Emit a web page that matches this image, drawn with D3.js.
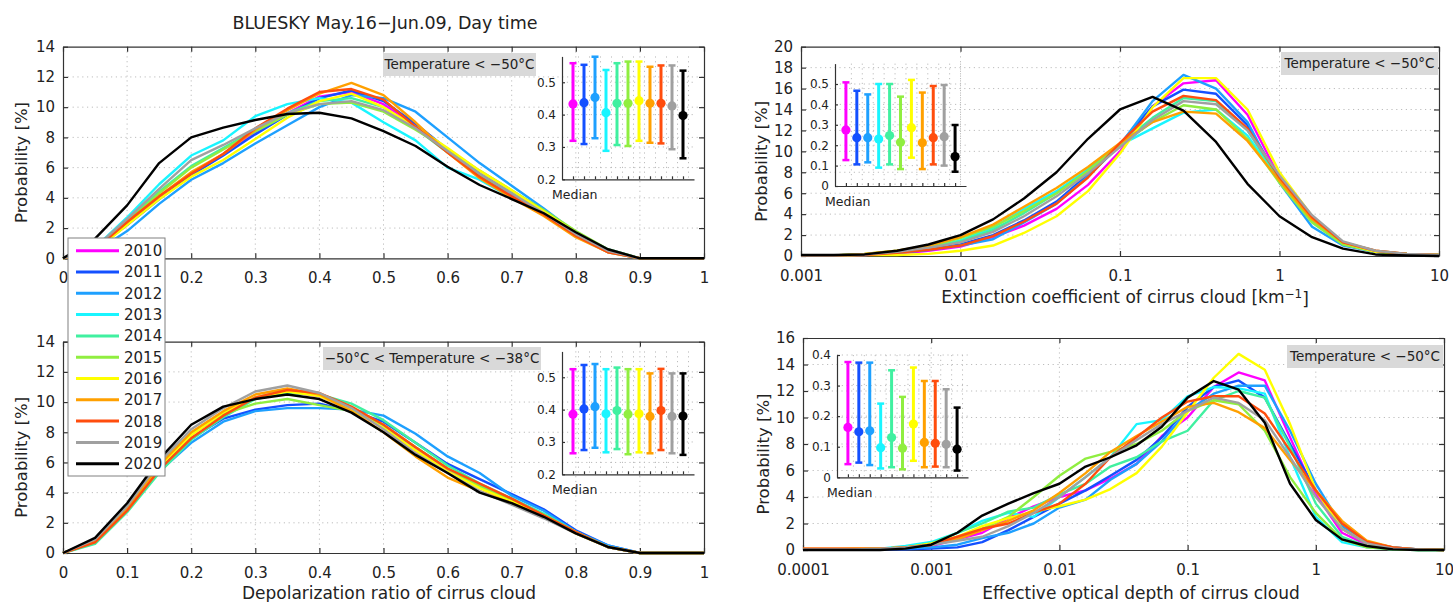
<!DOCTYPE html>
<html>
<head>
<meta charset="utf-8">
<script src="https://cdn.jsdelivr.net/npm/d3@7"></script>
<style>
  body { margin: 0; background: #fff; }
  svg { display: block; font-family: 'DejaVu Sans', 'Liberation Sans', sans-serif; fill: #222; }
  .axis path, .axis line { stroke: #333; stroke-width: 1.2; }
  .axis text { font-size: 15px; fill: #222; font-family: 'DejaVu Sans', sans-serif; }
  .inset .axis text { font-size: 12px; }
  .grid line { stroke: #bdbdbd; stroke-width: 1; stroke-dasharray: 1.2,3.6; }
</style>
</head>
<body>
<svg id="chart" width="1453" height="602"></svg>
<script>
'use strict';

var years = ['2010', '2011', '2012', '2013', '2014', '2015', '2016', '2017', '2018', '2019', '2020'];
var colors = ['#ff00ff', '#1450ff', '#1ea0ff', '#19f5ff', '#40f0a0', '#90ee40', '#ffff00', '#ffa000', '#ff4d0d', '#a0a0a0', '#000000'];

// bins (x of every point)
var depolBins = [0, 0.05, 0.1, 0.15, 0.2, 0.25, 0.3, 0.35, 0.4, 0.45, 0.5, 0.55, 0.6, 0.65, 0.7, 0.75, 0.8, 0.85, 0.9, 0.95, 1];
var extBins = [0.001, 0.0016, 0.0025, 0.004, 0.0063, 0.01, 0.016, 0.025, 0.04, 0.063, 0.1, 0.16, 0.25, 0.4, 0.63, 1, 1.6, 2.5, 4, 6.3, 10];
var odBins = [0.0001, 0.00016, 0.00025, 0.0004, 0.00063, 0.001, 0.0016, 0.0025, 0.004, 0.0063, 0.01, 0.016, 0.025, 0.04, 0.063, 0.1, 0.16, 0.25, 0.4, 0.63, 1, 1.6, 2.5, 4, 6.3, 10];

// tick labels
var depolTicks = [0, 0.1, 0.2, 0.3, 0.4, 0.5, 0.6, 0.7, 0.8, 0.9, 1];
var extTicks = [0.001, 0.01, 0.1, 1, 10];
var odTicks = [0.0001, 0.001, 0.01, 0.1, 1, 10];
var prob14Ticks = [0, 2, 4, 6, 8, 10, 12, 14];
var prob20Ticks = [0, 2, 4, 6, 8, 10, 12, 14, 16, 18, 20];
var prob16Ticks = [0, 2, 4, 6, 8, 10, 12, 14, 16];

// probability [%], one row per year, T < -50C
var depolCold = [
  [0, 0.6, 2.3, 4.0, 5.6, 6.9, 8.3, 9.6, 10.7, 11.0, 10.2, 8.8, 7.1, 5.5, 4.2, 2.9, 1.6, 0.5, 0, 0, 0],
  [0, 0.6, 2.2, 3.9, 5.5, 6.8, 8.2, 9.5, 10.6, 11.1, 10.4, 8.9, 7.2, 5.6, 4.3, 3.0, 1.6, 0.5, 0, 0, 0],
  [0, 0.4, 1.8, 3.6, 5.2, 6.3, 7.6, 8.8, 10.0, 10.8, 10.6, 9.7, 8.0, 6.3, 4.8, 3.3, 1.7, 0.6, 0, 0, 0],
  [0, 0.7, 2.7, 4.9, 6.8, 7.8, 9.4, 10.2, 10.6, 10.3, 9.0, 7.8, 6.0, 5.2, 4.0, 2.9, 1.5, 0.4, 0, 0, 0],
  [0, 0.6, 2.5, 4.4, 6.1, 7.3, 8.5, 9.6, 10.4, 10.6, 10.0, 8.6, 7.0, 5.5, 4.3, 3.0, 1.6, 0.5, 0, 0, 0],
  [0, 0.6, 2.4, 4.3, 6.0, 7.2, 8.4, 9.5, 10.2, 10.3, 9.7, 8.5, 7.2, 5.8, 4.5, 3.2, 1.8, 0.6, 0, 0, 0],
  [0, 0.5, 2.2, 3.9, 5.4, 6.5, 7.9, 9.3, 10.4, 10.9, 10.0, 8.7, 7.3, 5.8, 4.5, 3.1, 1.7, 0.5, 0, 0, 0],
  [0, 0.6, 2.4, 4.1, 5.7, 6.9, 8.5, 9.8, 10.9, 11.6, 10.8, 9.0, 7.0, 5.3, 4.0, 2.8, 1.4, 0.4, 0, 0, 0],
  [0, 0.6, 2.4, 4.1, 5.6, 6.9, 8.6, 9.9, 11.0, 11.2, 10.5, 8.7, 7.0, 5.4, 4.1, 2.9, 1.5, 0.4, 0, 0, 0],
  [0, 0.7, 2.6, 4.6, 6.5, 7.5, 8.6, 9.6, 10.2, 10.4, 9.8, 8.6, 7.1, 5.6, 4.3, 3.0, 1.6, 0.5, 0, 0, 0],
  [0, 1.3, 3.5, 6.3, 8.0, 8.65, 9.15, 9.55, 9.63, 9.26, 8.42, 7.43, 6.06, 4.85, 3.92, 2.98, 1.72, 0.6, 0, 0, 0]
];

// -50C < T < -38C
var depolWarm = [
  [0, 0.8, 3.0, 5.8, 7.9, 9.3, 10.3, 10.7, 10.4, 9.5, 8.3, 6.8, 5.5, 4.4, 3.5, 2.5, 1.4, 0.4, 0, 0, 0],
  [0, 0.8, 2.9, 5.6, 7.6, 8.9, 9.5, 9.8, 9.9, 9.4, 8.7, 7.3, 5.9, 4.9, 3.9, 2.9, 1.5, 0.5, 0, 0, 0],
  [0, 0.7, 2.8, 5.4, 7.3, 8.7, 9.4, 9.6, 9.6, 9.5, 9.1, 7.9, 6.4, 5.3, 3.8, 2.8, 1.4, 0.5, 0, 0, 0],
  [0, 0.8, 3.0, 5.8, 7.9, 9.2, 10.3, 10.8, 10.5, 9.6, 8.4, 7.0, 5.6, 4.5, 3.6, 2.6, 1.4, 0.4, 0, 0, 0],
  [0, 0.6, 2.7, 5.3, 7.5, 9.0, 10.2, 10.6, 10.5, 9.9, 8.8, 7.3, 5.8, 4.6, 3.6, 2.6, 1.4, 0.4, 0, 0, 0],
  [0, 0.8, 3.0, 5.8, 7.9, 9.2, 9.9, 10.2, 9.8, 9.4, 8.5, 7.0, 5.6, 4.4, 3.5, 2.5, 1.4, 0.4, 0, 0, 0],
  [0, 0.8, 3.0, 5.7, 7.8, 9.3, 10.3, 10.7, 10.4, 9.5, 8.3, 6.8, 5.4, 4.3, 3.4, 2.5, 1.3, 0.4, 0, 0, 0],
  [0, 0.8, 3.0, 5.8, 8.0, 9.4, 10.5, 10.9, 10.5, 9.4, 8.0, 6.4, 5.0, 4.1, 3.3, 2.4, 1.3, 0.4, 0, 0, 0],
  [0, 0.7, 2.8, 5.5, 7.6, 9.1, 10.3, 10.8, 10.6, 9.7, 8.5, 7.0, 5.6, 4.6, 3.6, 2.5, 1.4, 0.4, 0, 0, 0],
  [0, 0.9, 3.1, 6.0, 8.2, 9.6, 10.7, 11.1, 10.6, 9.6, 8.2, 6.6, 5.3, 4.1, 3.2, 2.3, 1.3, 0.4, 0, 0, 0],
  [0, 1.0, 3.3, 6.2, 8.5, 9.7, 10.2, 10.5, 10.2, 9.3, 8.0, 6.5, 5.3, 4.0, 3.3, 2.4, 1.3, 0.4, 0, 0, 0]
];

var extinction = [
  [0.05, 0.05, 0.1, 0.2, 0.5, 0.9, 1.8, 2.9, 4.5, 6.8, 10.0, 14.3, 16.5, 16.8, 13.5, 7.5, 3.6, 1.2, 0.4, 0.2, 0.1],
  [0.05, 0.05, 0.1, 0.3, 0.6, 1.1, 2.0, 3.4, 5.2, 7.8, 10.7, 14.3, 15.9, 15.5, 12.5, 7.3, 3.4, 1.1, 0.4, 0.2, 0.1],
  [0.05, 0.05, 0.1, 0.3, 0.6, 1.0, 1.6, 3.2, 5.0, 7.6, 10.6, 14.8, 17.3, 16.0, 12.8, 7.0, 2.8, 1.0, 0.4, 0.2, 0.1],
  [0.05, 0.05, 0.15, 0.4, 0.8, 1.5, 2.7, 4.5, 6.2, 8.3, 10.6, 12.2, 13.7, 14.0, 11.5, 7.2, 3.3, 1.2, 0.4, 0.2, 0.1],
  [0.05, 0.05, 0.15, 0.4, 0.8, 1.4, 2.5, 4.1, 6.0, 8.2, 10.7, 13.2, 15.1, 14.8, 12.0, 7.3, 3.4, 1.2, 0.4, 0.2, 0.1],
  [0.05, 0.05, 0.2, 0.5, 0.9, 1.7, 2.8, 4.3, 6.0, 8.1, 10.6, 12.8, 14.4, 14.0, 11.2, 7.0, 3.2, 1.1, 0.4, 0.2, 0.1],
  [0.05, 0.05, 0.1, 0.1, 0.2, 0.5, 1.0, 2.2, 3.8, 6.2, 9.8, 14.2, 17.0, 17.0, 14.0, 8.0, 3.8, 1.3, 0.4, 0.2, 0.1],
  [0.05, 0.05, 0.2, 0.5, 1.0, 1.8, 3.0, 4.7, 6.5, 8.5, 10.8, 12.8, 13.8, 13.6, 11.0, 7.2, 3.5, 1.3, 0.5, 0.2, 0.1],
  [0.05, 0.05, 0.1, 0.3, 0.6, 1.0, 1.9, 3.3, 5.0, 7.5, 10.8, 13.8, 15.3, 14.9, 12.2, 7.5, 3.7, 1.3, 0.5, 0.2, 0.1],
  [0.05, 0.05, 0.15, 0.4, 0.8, 1.3, 2.3, 3.8, 5.7, 7.9, 10.4, 13.0, 14.8, 14.5, 12.0, 7.7, 3.9, 1.4, 0.5, 0.2, 0.1],
  [0.1, 0.1, 0.15, 0.5, 1.1, 2.0, 3.5, 5.5, 8.0, 11.2, 14.0, 15.2, 13.9, 10.9, 6.9, 3.8, 1.8, 0.7, 0.15, 0.05, 0]
];

var opticalDepth = [
  [0.05, 0.05, 0.05, 0.05, 0.1, 0.3, 0.8, 1.3, 2.4, 3.3, 4.0, 4.5, 5.4, 6.5, 8.6, 10.0, 12.3, 13.4, 12.8, 8.5, 4.2, 1.3, 0.4, 0.1, 0.05, 0],
  [0.05, 0.05, 0.05, 0.05, 0.05, 0.1, 0.2, 0.6, 1.5, 2.5, 3.5, 4.5, 5.6, 6.8, 8.5, 10.8, 12.3, 12.8, 11.5, 8.0, 4.5, 1.6, 0.5, 0.2, 0.05, 0],
  [0.05, 0.05, 0.05, 0.05, 0.1, 0.2, 0.4, 0.9, 1.3, 2.0, 3.2, 3.8, 5.3, 6.5, 8.2, 10.5, 11.8, 12.4, 12.4, 9.0, 5.0, 1.8, 0.6, 0.2, 0.05, 0],
  [0.05, 0.05, 0.05, 0.1, 0.3, 0.6, 1.3, 2.2, 2.8, 2.5, 4.0, 5.5, 7.0, 9.5, 9.8, 11.6, 12.3, 12.2, 11.8, 7.0, 2.5, 0.6, 0.2, 0.05, 0, 0],
  [0.05, 0.05, 0.05, 0.1, 0.2, 0.5, 1.3, 2.0, 2.9, 3.2, 4.2, 5.0, 6.3, 7.0, 8.2, 9.0, 11.3, 12.0, 11.5, 7.8, 3.5, 1.0, 0.3, 0.1, 0, 0],
  [0.05, 0.05, 0.05, 0.1, 0.2, 0.4, 0.9, 1.6, 2.5, 4.0, 5.6, 6.9, 7.4, 8.0, 9.0, 10.5, 11.3, 11.0, 9.0, 5.5, 2.8, 0.8, 0.2, 0.05, 0, 0],
  [0.05, 0.05, 0.1, 0.1, 0.2, 0.5, 1.0, 1.8, 2.4, 2.9, 3.3, 3.8, 4.6, 5.8, 7.8, 10.4, 13.0, 14.8, 13.6, 9.5, 4.5, 1.6, 0.5, 0.1, 0.05, 0],
  [0.1, 0.1, 0.1, 0.1, 0.2, 0.4, 0.8, 1.5, 2.2, 3.0, 4.3, 5.8, 7.4, 8.6, 9.7, 10.8, 11.1, 10.4, 9.2, 6.8, 4.5, 2.2, 0.7, 0.2, 0.05, 0],
  [0.1, 0.1, 0.1, 0.1, 0.2, 0.4, 1.0, 1.6, 2.0, 2.8, 3.5, 5.0, 7.0, 8.5, 10.0, 11.2, 11.6, 11.6, 10.3, 7.5, 4.5, 2.0, 0.6, 0.2, 0.05, 0],
  [0.05, 0.05, 0.05, 0.1, 0.2, 0.4, 0.7, 1.0, 1.8, 2.8, 4.0, 5.5, 7.0, 8.3, 9.5, 10.5, 11.5, 11.1, 9.8, 7.0, 4.0, 1.6, 0.5, 0.1, 0.05, 0],
  [0, 0, 0, 0, 0.1, 0.4, 1.3, 2.6, 3.5, 4.3, 5.0, 6.3, 7.0, 7.9, 9.3, 11.5, 12.75, 12.1, 9.6, 5.0, 2.26, 0.8, 0.3, 0.05, 0, 0]
];

// median with its range, per year
var depolColdMed = [0.433, 0.437, 0.453, 0.406, 0.435, 0.435, 0.443, 0.435, 0.435, 0.427, 0.397];
var depolColdLo = [0.319, 0.309, 0.327, 0.288, 0.306, 0.303, 0.319, 0.313, 0.311, 0.293, 0.265];
var depolColdHi = [0.559, 0.554, 0.579, 0.538, 0.559, 0.564, 0.564, 0.548, 0.552, 0.552, 0.536];

var depolWarmMed = [0.386, 0.402, 0.409, 0.387, 0.397, 0.386, 0.387, 0.379, 0.397, 0.379, 0.380];
var depolWarmLo = [0.265, 0.275, 0.282, 0.268, 0.278, 0.262, 0.268, 0.265, 0.275, 0.265, 0.260];
var depolWarmHi = [0.525, 0.538, 0.541, 0.525, 0.530, 0.525, 0.525, 0.512, 0.526, 0.512, 0.512];

var extMed = [0.275, 0.237, 0.237, 0.230, 0.247, 0.214, 0.286, 0.212, 0.237, 0.242, 0.144];
var extLo = [0.127, 0.106, 0.116, 0.090, 0.106, 0.083, 0.139, 0.083, 0.106, 0.100, 0.070];
var extHi = [0.508, 0.467, 0.449, 0.500, 0.500, 0.438, 0.520, 0.458, 0.490, 0.495, 0.299];

var odMed = [0.163, 0.149, 0.152, 0.097, 0.130, 0.095, 0.174, 0.114, 0.111, 0.108, 0.092];
var odLo = [0.043, 0.048, 0.040, 0.029, 0.033, 0.026, 0.054, 0.033, 0.035, 0.033, 0.022];
var odHi = [0.377, 0.375, 0.375, 0.241, 0.350, 0.263, 0.359, 0.315, 0.315, 0.288, 0.228];

var depolInsetTicks = [0.2, 0.3, 0.4, 0.5];
var extInsetTicks = [0, 0.1, 0.2, 0.3, 0.4, 0.5];
var odInsetTicks = [0, 0.1, 0.2, 0.3, 0.4];

(function() {
  var svg = d3.select('#chart');
  var fmtTick = d3.format('~g');

  function fmtInset(d) {
    return d === 0 ? '0' : d3.format('.1f')(d);
  }

  function drawInset(g, s) {
    var ix = d3.scaleLinear().domain([0, 12]).range([s.left, s.right]);
    var iy = d3.scaleLinear().domain(s.domain).range([s.bottom, s.top]);
    var ig = g.append('g').attr('class', 'inset');

    var grid = ig.append('g').attr('class', 'grid');
    grid.selectAll('line.igy')
      .data(s.ticks.slice(1))
      .enter().append('line')
      .attr('class', 'igy')
      .attr('x1', s.left).attr('x2', s.right)
      .attr('y1', iy).attr('y2', iy);
    grid.selectAll('line.igx')
      .data(years)
      .enter().append('line')
      .attr('class', 'igx')
      .attr('x1', function(d, i) { return ix(i + 1.5); })
      .attr('x2', function(d, i) { return ix(i + 1.5); })
      .attr('y1', s.top).attr('y2', s.bottom);

    ig.append('g')
      .attr('class', 'axis')
      .attr('transform', 'translate(' + s.left + ',0)')
      .call(d3.axisLeft(iy).tickValues(s.ticks).tickFormat(fmtInset)
        .tickSizeInner(-3).tickSizeOuter(0).tickPadding(6));

    ig.append('g')
      .attr('class', 'axis')
      .attr('transform', 'translate(0,' + s.bottom + ')')
      .call(d3.axisBottom(ix).tickValues(years.map(function(d, i) { return i + 1; }))
        .tickFormat('').tickSizeInner(-3).tickSizeOuter(0));

    var bar = ig.selectAll('g.bar')
      .data(years)
      .enter().append('g')
      .attr('class', 'bar')
      .attr('stroke', function(d, i) { return colors[i]; })
      .attr('fill', function(d, i) { return colors[i]; });

    bar.append('line')
      .attr('x1', function(d, i) { return ix(i + 1); })
      .attr('x2', function(d, i) { return ix(i + 1); })
      .attr('y1', function(d, i) { return iy(s.lo[i]); })
      .attr('y2', function(d, i) { return iy(s.hi[i]); })
      .attr('stroke-width', 3);

    ['lo', 'hi'].forEach(function(k) {
      bar.append('line')
        .attr('x1', function(d, i) { return ix(i + 1) - 3.5; })
        .attr('x2', function(d, i) { return ix(i + 1) + 3.5; })
        .attr('y1', function(d, i) { return iy(s[k][i]); })
        .attr('y2', function(d, i) { return iy(s[k][i]); })
        .attr('stroke-width', 2.5);
    });

    bar.append('circle')
      .attr('cx', function(d, i) { return ix(i + 1); })
      .attr('cy', function(d, i) { return iy(s.med[i]); })
      .attr('r', 4.6)
      .attr('stroke', 'none');

    ig.append('text')
      .attr('x', s.left - 10)
      .attr('y', s.bottom + 20)
      .style('font-size', '12.5px')
      .text('Median');
  }

  function drawPanel(p) {
    var g = svg.append('g');
    var hidden = p.hideLabels || [];

    var x = (p.log ? d3.scaleLog() : d3.scaleLinear())
      .domain([p.xTicks[0], p.xTicks[p.xTicks.length - 1]])
      .range([p.left, p.right]);
    var y = d3.scaleLinear()
      .domain([0, p.yTicks[p.yTicks.length - 1]])
      .range([p.bottom, p.top]);

    /* ------- GRID ------- */
    var grid = g.append('g').attr('class', 'grid');
    grid.selectAll('line.gx')
      .data(p.xTicks.slice(1, -1))
      .enter().append('line')
      .attr('class', 'gx')
      .attr('x1', x).attr('x2', x)
      .attr('y1', p.top).attr('y2', p.bottom);
    grid.selectAll('line.gy')
      .data(p.yTicks.slice(1, -1))
      .enter().append('line')
      .attr('class', 'gy')
      .attr('x1', p.left).attr('x2', p.right)
      .attr('y1', y).attr('y2', y);

    /* ------- AXES ------- */
    // labels that the legend covers are left out
    g.append('g')
      .attr('class', 'axis')
      .attr('transform', 'translate(0,' + p.bottom + ')')
      .call(d3.axisBottom(x).tickValues(p.xTicks)
        .tickFormat(function(d) { return hidden.indexOf(d) < 0 ? fmtTick(d) : ''; })
        .tickSizeInner(-5).tickSizeOuter(0).tickPadding(14));
    g.append('g')
      .attr('class', 'axis')
      .attr('transform', 'translate(0,' + p.top + ')')
      .call(d3.axisTop(x).tickValues(p.xTicks).tickFormat('')
        .tickSizeInner(-5).tickSizeOuter(0));
    g.append('g')
      .attr('class', 'axis')
      .attr('transform', 'translate(' + p.left + ',0)')
      .call(d3.axisLeft(y).tickValues(p.yTicks).tickFormat(fmtTick)
        .tickSizeInner(-5).tickSizeOuter(0).tickPadding(8));
    g.append('g')
      .attr('class', 'axis')
      .attr('transform', 'translate(' + p.right + ',0)')
      .call(d3.axisRight(y).tickValues(p.yTicks).tickFormat('')
        .tickSizeInner(-5).tickSizeOuter(0));

    g.append('text')
      .attr('transform', 'translate(' + p.yLabelX + ',' + ((p.top + p.bottom) / 2 + 10) + ')rotate(-90)')
      .attr('text-anchor', 'middle')
      .attr('dy', '.35em')
      .style('font-size', '16.5px')
      .text('Probability [%]');

    /* ------- CURVES ------- */
    var line = d3.line()
      .x(function(d, i) { return x(p.bins[i]); })
      .y(function(d) { return y(d); });

    g.append('g')
      .selectAll('path')
      .data(p.series)
      .enter().append('path')
      .attr('d', line)
      .attr('fill', 'none')
      .attr('stroke', function(d, i) { return colors[i]; })
      .attr('stroke-width', 2.4)
      .attr('stroke-linejoin', 'round');

    /* ------- LABEL BOX ------- */
    g.append('rect')
      .attr('x', p.box[0])
      .attr('y', p.box[1])
      .attr('width', p.box[2])
      .attr('height', 23)
      .attr('fill', '#d9d9d9');
    g.append('text')
      .attr('x', p.box[0] + p.box[2] / 2)
      .attr('y', p.box[1] + 11.5)
      .attr('dy', '.36em')
      .attr('text-anchor', 'middle')
      .style('font-size', '13.5px')
      .text(p.label);

    drawInset(g, p.inset);
    return g;
  }

  drawPanel({
    left: 63, right: 704, top: 46.7, bottom: 258.3, yLabelX: 21, hideLabels: [0.1],
    bins: depolBins, series: depolCold, xTicks: depolTicks, yTicks: prob14Ticks,
    box: [383, 53, 153], label: 'Temperature < \u221250\u00b0C',
    inset: { left: 562, right: 694, top: 56.4, bottom: 179.3, domain: [0.2, 0.58], ticks: depolInsetTicks,
      med: depolColdMed, lo: depolColdLo, hi: depolColdHi }
  });

  drawPanel({
    left: 63, right: 704, top: 341.7, bottom: 553, yLabelX: 21,
    bins: depolBins, series: depolWarm, xTicks: depolTicks, yTicks: prob14Ticks,
    box: [323, 347, 218], label: '\u221250\u00b0C < Temperature < \u221238\u00b0C',
    inset: { left: 562, right: 694, top: 351.4, bottom: 474.3, domain: [0.2, 0.58], ticks: depolInsetTicks,
      med: depolWarmMed, lo: depolWarmLo, hi: depolWarmHi }
  });

  drawPanel({
    left: 801, right: 1439, top: 46.7, bottom: 256, yLabelX: 761, log: true,
    bins: extBins, series: extinction, xTicks: extTicks, yTicks: prob20Ticks,
    box: [1281, 52, 157], label: 'Temperature < \u221250\u00b0C',
    inset: { left: 835, right: 966, top: 63.6, bottom: 186, domain: [0, 0.6], ticks: extInsetTicks,
      med: extMed, lo: extLo, hi: extHi }
  });

  drawPanel({
    left: 803, right: 1444, top: 338, bottom: 550, yLabelX: 763, log: true,
    bins: odBins, series: opticalDepth, xTicks: odTicks, yTicks: prob16Ticks,
    box: [1287, 345, 156], label: 'Temperature < \u221250\u00b0C',
    inset: { left: 837, right: 968, top: 355, bottom: 477.3, domain: [0, 0.4], ticks: odInsetTicks,
      med: odMed, lo: odLo, hi: odHi }
  });

  /* ------- TITLES ------- */
  svg.append('text')
    .attr('x', 385).attr('y', 23).attr('dy', '.35em')
    .attr('text-anchor', 'middle')
    .style('font-size', '17.5px')
    .text('BLUESKY May.16\u2212Jun.09, Day time');

  svg.append('text')
    .attr('x', 389).attr('y', 593).attr('dy', '.35em')
    .attr('text-anchor', 'middle')
    .style('font-size', '17px')
    .text('Depolarization ratio of cirrus cloud');

  var ext = svg.append('text')
    .attr('x', 1125).attr('y', 297).attr('dy', '.35em')
    .attr('text-anchor', 'middle')
    .style('font-size', '17px');
  ext.append('tspan').text('Extinction coefficient of cirrus cloud [km');
  ext.append('tspan').attr('dy', '-0.45em').style('font-size', '12px').text('\u22121');
  ext.append('tspan').attr('dy', '0.45em').text(']');

  svg.append('text')
    .attr('x', 1141).attr('y', 593).attr('dy', '.35em')
    .attr('text-anchor', 'middle')
    .style('font-size', '17px')
    .text('Effective optical depth of cirrus cloud');

  /* ------- LEGEND ------- */
  var legend = svg.append('g')
    .attr('transform', 'translate(68,238)');

  legend.append('rect')
    .attr('width', 97)
    .attr('height', 238)
    .attr('fill', '#fff')
    .attr('stroke', '#808080')
    .attr('stroke-width', 1);

  var item = legend.selectAll('g.item')
    .data(years)
    .enter().append('g')
    .attr('class', 'item')
    .attr('transform', function(d, i) { return 'translate(0,' + (12.7 + i * 21.3) + ')'; });

  item.append('line')
    .attr('x1', 8).attr('x2', 51)
    .attr('stroke', function(d, i) { return colors[i]; })
    .attr('stroke-width', 3);

  item.append('text')
    .attr('x', 56)
    .attr('dy', '.36em')
    .style('font-size', '15px')
    .text(function(d) { return d; });
})();
</script>
</body>
</html>
